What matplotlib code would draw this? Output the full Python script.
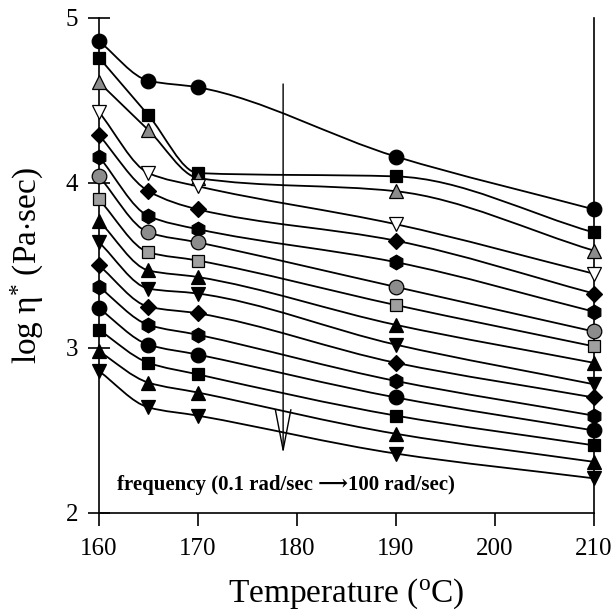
import numpy as np
import matplotlib
matplotlib.use('Agg')
import matplotlib.pyplot as plt
from matplotlib.path import Path
from matplotlib.patches import PathPatch

plt.rcParams['font.family'] = ['Liberation Serif', 'DejaVu Serif']
plt.rcParams['mathtext.fontset'] = 'custom'
plt.rcParams['mathtext.rm'] = 'Liberation Serif'
plt.rcParams['mathtext.it'] = 'Liberation Serif:italic'

temps = [160, 165, 170, 190, 210]

# log eta* at each temperature, one value per frequency (0.1 -> 100 rad/sec)
t160 = [4.86, 4.76, 4.61, 4.43, 4.29, 4.16, 4.04, 3.90, 3.77, 3.64, 3.50, 3.37, 3.24, 3.11, 2.98, 2.86]
t165 = [4.62, 4.41, 4.32, 4.06, 3.95, 3.80, 3.70, 3.58, 3.47, 3.36, 3.25, 3.14, 3.02, 2.91, 2.79, 2.64]
t170 = [4.58, 4.06, 4.03, 3.98, 3.84, 3.72, 3.64, 3.53, 3.43, 3.33, 3.21, 3.08, 2.96, 2.84, 2.73, 2.59]
t190 = [4.16, 4.04, 3.95, 3.75, 3.65, 3.52, 3.37, 3.26, 3.14, 3.02, 2.91, 2.80, 2.70, 2.59, 2.48, 2.36]
t210 = [3.84, 3.70, 3.59, 3.45, 3.33, 3.22, 3.10, 3.01, 2.91, 2.78, 2.70, 2.59, 2.50, 2.41, 2.31, 2.21]

markers = ['o', 's', '^', 'v', 'D', 'h', 'o', 's', '^', 'v', 'D', 'h', 'o', 's', '^', 'v']
faces = ['k', 'k', '#8c8c8c', 'w', 'k', 'k', '#8c8c8c', '#a0a0a0',
         'k', 'k', 'k', 'k', 'k', 'k', 'k', 'k']
sizes = {'o': 10.5, 's': 9, '^': 9.5, 'v': 9.5, 'D': 8, 'h': 10.5}


def smooth_path(x, y):
    # monotone cubic drawn as bezier segments
    x = np.asarray(x, float)
    y = np.asarray(y, float)
    h = np.diff(x)
    d = np.diff(y) / h
    m = np.zeros_like(y)
    m[0], m[-1] = d[0], d[-1]
    for i in range(1, len(x) - 1):
        if d[i - 1] * d[i] <= 0:
            m[i] = 0
        else:
            w1 = 2 * h[i] + h[i - 1]
            w2 = h[i] + 2 * h[i - 1]
            m[i] = (w1 + w2) / (w1 / d[i - 1] + w2 / d[i])
    verts = [(x[0], y[0])]
    codes = [Path.MOVETO]
    for i in range(len(h)):
        verts += [(x[i] + h[i] / 3, y[i] + m[i] * h[i] / 3),
                  (x[i + 1] - h[i] / 3, y[i + 1] - m[i + 1] * h[i] / 3),
                  (x[i + 1], y[i + 1])]
        codes += [Path.CURVE4] * 3
    return Path(verts, codes)


fig = plt.figure(figsize=(6.14, 6.14), dpi=100)
ax = fig.add_axes([0.1612, 0.1645, 0.8062, 0.8062])

for i in range(len(t160)):
    vals = [t160[i], t165[i], t170[i], t190[i], t210[i]]
    ax.add_patch(PathPatch(smooth_path(temps, vals), fill=False,
                           lw=1.3, ec='k', zorder=2))
    ax.plot(temps, vals, ls='none', marker=markers[i], ms=sizes[markers[i]],
            mfc=faces[i], mec='k', mew=0.9, zorder=3, clip_on=False)

ax.annotate('', xy=(178.6, 2.36), xytext=(178.6, 4.6),
            arrowprops=dict(arrowstyle='->,head_length=1.45,head_width=0.28',
                            mutation_scale=20, lw=1.0, color='k',
                            shrinkA=0, shrinkB=0))
ax.text(161.8, 2.17, 'frequency (0.1 rad/sec \u27f6100 rad/sec)',
        fontsize=15, fontweight='bold', va='center', ha='left')

ax.set_xlim(160, 210)
ax.set_ylim(2, 5)
ax.set_xticks([160, 170, 180, 190, 200, 210])
ax.set_yticks([2, 3, 4, 5])
ax.spines['top'].set_visible(False)
for s in ['left', 'right', 'bottom']:
    ax.spines[s].set_linewidth(1.2)
ax.tick_params(axis='x', direction='out', length=9, width=1.2, pad=9, labelsize=18)
ax.tick_params(axis='y', direction='inout', length=16, width=1.2, pad=7, labelsize=18)

ax.set_xlabel('Temperature ($^{\\rm o}$C)', fontsize=24, labelpad=12)
ax.set_ylabel(r'$\mathrm{log\ \eta^{*}\ (Pa{\cdot}sec)}$', fontsize=24, labelpad=14)

fig.savefig('out.png', dpi=100)
